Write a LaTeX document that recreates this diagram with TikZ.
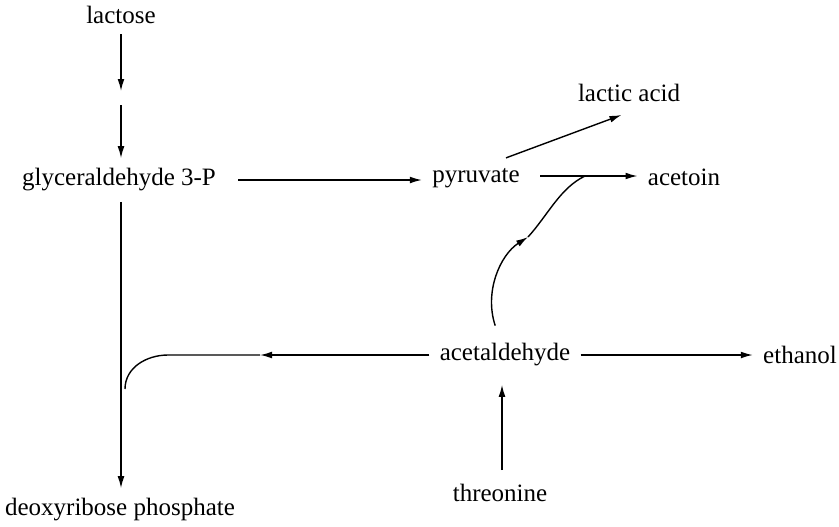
\documentclass[tikz,border=0pt]{standalone}
\usepackage{fontspec}
\setmainfont{Liberation Serif}
\usetikzlibrary{arrows.meta,positioning}

\begin{document}
\begin{tikzpicture}[x=0.5pt, y=-0.5pt,
    every node/.style={font=\fontsize{12.5}{14}\selectfont, inner sep=5pt},
    arr/.style={-{Latex[length=6pt,width=3.4pt]}, line width=0.7pt},
    plain/.style={line width=0.7pt}]

    \useasboundingbox (0,0) rectangle (839,526);

    % Compounds
    \node (lactose) at (121,15) {lactose};
    \node (glyc) at (119,180) {glyceraldehyde 3-P};
    \node (pyruvate) at (476,178) {pyruvate};
    \node (lactic) at (629,93) {lactic acid};
    \node (acetoin) at (684,177) {acetoin};
    \node (acetald) at (505,355) {acetaldehyde};
    \node (ethanol) at (800,355) {ethanol};
    \node (threonine) at (500,493) {threonine};
    \node (deoxy) at (120,510) {deoxyribose phosphate};

    % Helper points
    \coordinate (l1) at (121,91);
    \coordinate (l2) at (121,105);
    \coordinate (j1) at (585,176);
    \coordinate (c1) at (528,237);
    \coordinate (h1) at (260,355);
    \coordinate (h2) at (168,355);
    \coordinate (h3) at (125,389);
    \coordinate (t1) at (502,470);

    % Edges
    \draw[arr] (lactose) -- (l1);
    \draw[arr] (l2) -- (l2 |- glyc.north);
    \draw[arr, shorten <=6pt] (glyc.east |- 0,180) -- (pyruvate.west |- 0,180);
    \draw[arr, shorten >=4pt] ([xshift=15pt]pyruvate.north) -- (lactic.south);
    \draw[arr, shorten <=5pt] (pyruvate.east |- j1) -- (acetoin.west |- j1);
    \draw[arr] (acetald) -- (ethanol);
    \draw[arr, shorten >=4pt] (t1) -- (t1 |- acetald.south);
    \draw[arr] (l1 |- glyc.south) -- (l1 |- deoxy.north);
    \draw[arr] (acetald) -- (h1);
    \draw[plain] (h1) -- (h2) to[out=180, in=90] (h3);
    \draw[arr, shorten <=4pt] (acetald) .. controls (484,292) and (500,255) .. (c1);
    \draw[plain] (c1) .. controls (548,215) and (560,188) .. (j1);

\end{tikzpicture}
\end{document}
